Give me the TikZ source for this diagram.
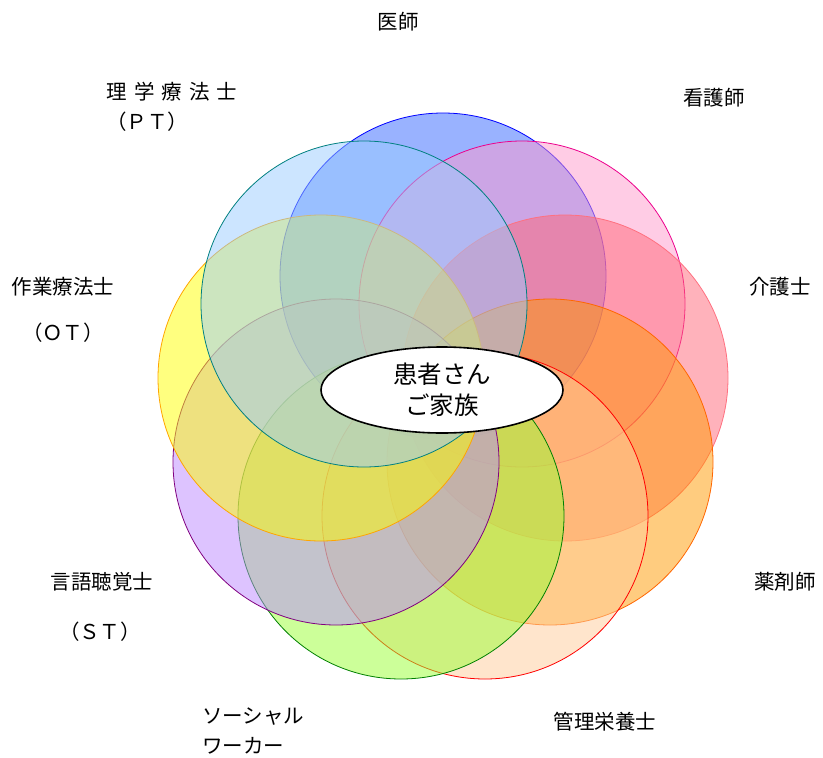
\documentclass[tikz,border=0pt]{standalone}
\usepackage{fontspec}
\setmainfont{Noto Sans CJK JP}
\usetikzlibrary{shapes.geometric}
\definecolor{fBlue}{HTML}{3366FF}
\definecolor{fMag}{HTML}{FF99CC}
\definecolor{fPink}{HTML}{FF6677}
\definecolor{fOrange}{HTML}{FF9900}
\definecolor{fPeach}{HTML}{FFCC99}
\definecolor{fGreen}{HTML}{99FF33}
\definecolor{fPurple}{HTML}{BB88FF}
\definecolor{fYellow}{HTML}{FFFF00}
\definecolor{fTeal}{HTML}{99CCFF}
\definecolor{dPink}{HTML}{FF7080}
\definecolor{dOrange}{HTML}{FF6600}
\definecolor{dGreen}{HTML}{008000}
\definecolor{dPurple}{HTML}{800080}
\definecolor{dYellow}{HTML}{FFA500}
\definecolor{dTeal}{HTML}{008080}
\tikzset{
  ring/.style={circle, minimum size=326pt, inner sep=0pt, line width=0.8pt, fill opacity=0.5},
  lbl/.style={font=\fontsize{20.5}{24}\selectfont, inner sep=0pt},
  core/.style={ellipse, draw=black, line width=1.6pt, fill=white, minimum width=242pt, minimum height=86pt, inner sep=0pt, align=center, font=\fontsize{24.5}{31}\selectfont}
}
\begin{document}
\begin{tikzpicture}[x=1pt,y=-1pt]
\useasboundingbox (0,0) rectangle (823,758);
\node[ring, draw=blue, fill=fBlue] (c1) at (443,276) {};
\node[ring, draw=magenta, fill=fMag] (c2) at (522,304) {};
\node[ring, draw=dPink, fill=fPink] (c3) at (565,378) {};
\node[ring, draw=dOrange, fill=fOrange] (c4) at (550,462) {};
\node[ring, draw=red, fill=fPeach] (c5) at (485,516) {};
\node[ring, draw=dGreen, fill=fGreen] (c6) at (401,516) {};
\node[ring, draw=dPurple, fill=fPurple] (c7) at (336,462) {};
\node[ring, draw=dYellow, fill=fYellow] (c8) at (321,378) {};
\node[ring, draw=dTeal, fill=fTeal] (c9) at (364,304) {};
\node[core] (pt) at (442,390) {患者さん\\ご家族};
\node[lbl] (l1) at (398,22) {医師};
\node[lbl] (l2) at (714,98) {看護師};
\node[lbl] (l3) at (780,287) {介護士};
\node[lbl] (l4) at (785,582) {薬剤師};
\node[lbl] (l5) at (605,722) {管理栄養士};
\node[lbl, anchor=west] (l6a) at (202,717) {ソーシャル};
\node[lbl, anchor=west] (l6b) at (202,746) {ワーカー};
\node[lbl] (l7a) at (102,582) {言語聴覚士};
\node[lbl] (l7b) at (100,632) {（ＳＴ）};
\node[lbl] (l8a) at (63,287) {作業療法士};
\node[lbl] (l8b) at (63,333) {（ＯＴ）};
\node[lbl] (l9a) at (172,92) {理\hspace{7pt}学\hspace{7pt}療\hspace{7pt}法\hspace{7pt}士};
\node[lbl] (l9b) at (147,122) {（ＰＴ）};
\end{tikzpicture}
\end{document}
